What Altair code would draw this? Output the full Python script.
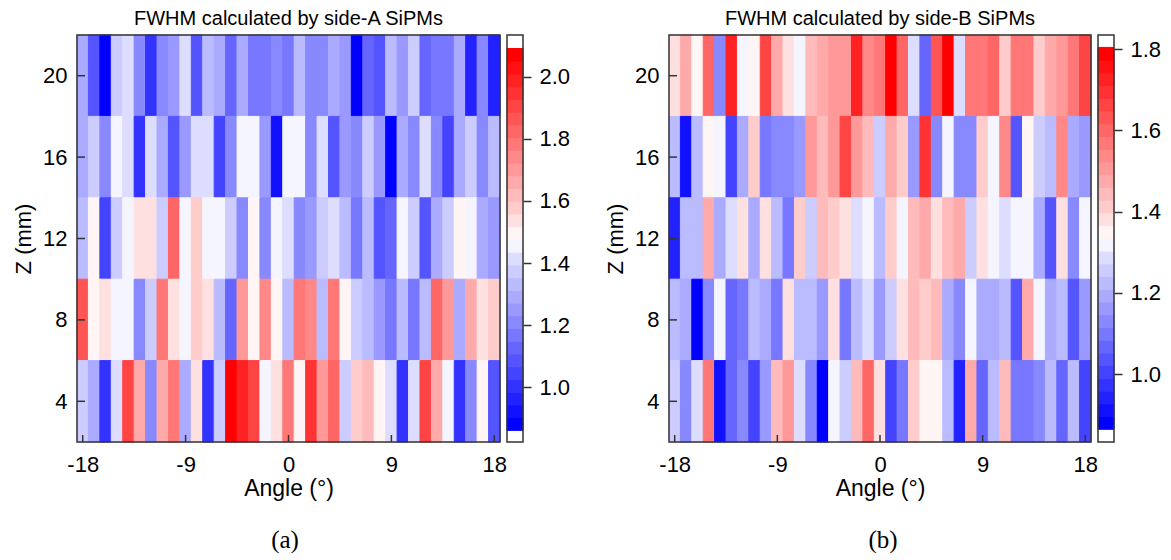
import altair as alt
import pandas as pd

ANGLES = list(range(-18, 19))
Z_ROWS = [20, 16, 12, 8, 4]

A_20 = [1.29,1.09,0.88,1.37,1.41,1.21,1.00,1.21,1.25,1.41,1.09,1.33,1.29,1.13,1.29,1.17,1.17,1.21,1.17,1.33,1.21,1.21,1.29,1.25,0.88,1.13,1.09,1.33,1.25,1.37,1.13,1.17,1.17,1.29,0.96,1.21,0.96]
A_16 = [1.29,1.37,1.21,1.46,1.41,1.00,1.41,1.29,1.09,1.25,1.41,1.41,1.05,1.21,1.46,1.46,1.25,0.92,1.46,1.46,1.21,1.41,1.09,1.25,1.21,1.37,1.25,0.88,1.29,1.21,1.41,1.21,1.05,1.29,1.37,1.21,1.33]
A_12 = [1.33,1.50,1.05,1.37,1.46,1.54,1.54,1.37,1.82,1.46,1.58,1.46,1.46,1.37,1.21,1.50,1.21,1.46,1.41,1.21,1.25,1.37,1.41,1.33,1.17,1.33,1.09,1.13,1.46,1.37,1.09,1.29,1.37,1.50,1.46,1.29,1.25]
A_8 = [1.87,1.50,1.54,1.46,1.46,1.21,1.37,1.78,1.54,1.46,1.58,1.54,1.33,1.13,1.70,1.50,1.74,1.50,1.33,1.78,1.74,1.33,1.78,1.50,1.37,1.33,1.25,1.17,1.33,1.17,1.33,1.82,1.70,1.29,1.66,1.54,1.58]
A_4 = [1.37,1.29,1.00,1.41,1.91,1.66,1.21,1.66,1.78,1.29,1.54,1.00,1.37,2.07,1.99,1.91,1.46,1.54,1.78,1.50,1.95,1.70,1.82,1.37,1.58,1.62,1.50,1.41,1.00,1.41,1.91,1.66,1.46,1.00,1.21,1.50,1.09]

B_20 = [1.38,1.48,1.35,1.60,1.13,1.73,1.32,1.35,1.67,1.48,1.38,1.32,1.45,1.48,1.51,1.51,1.73,1.54,1.57,1.79,1.60,1.29,1.07,1.64,1.79,1.29,1.57,1.57,1.60,1.42,1.57,1.57,1.42,1.48,1.51,1.57,1.67]
B_16 = [1.23,0.91,1.23,1.35,1.32,1.00,1.19,1.42,1.10,1.13,1.13,1.16,1.51,1.45,1.51,1.67,1.51,1.45,1.26,1.48,1.42,1.16,1.70,1.13,1.32,1.13,1.13,1.42,1.32,1.54,1.04,1.35,1.26,1.23,1.54,1.19,1.16]
B_12 = [0.94,1.23,1.23,1.48,1.19,1.29,1.38,1.19,1.38,1.23,1.10,1.42,1.26,1.45,1.42,1.38,1.29,1.32,1.23,1.42,1.32,1.45,1.48,1.38,1.45,1.48,1.26,1.38,1.32,1.29,1.32,1.32,1.19,1.04,1.38,1.13,1.32]
B_8 = [1.23,1.19,0.88,1.13,1.32,1.07,1.10,1.23,1.19,1.10,1.38,1.23,1.23,1.16,1.38,1.10,1.23,1.29,1.16,1.26,1.38,1.45,1.42,1.45,1.19,1.13,1.32,1.19,1.19,1.23,1.04,1.48,1.32,1.19,1.23,1.04,1.16]
B_4 = [1.26,1.13,1.29,1.57,0.91,1.07,1.13,1.00,1.16,1.45,1.51,1.29,1.13,0.88,1.32,1.26,1.45,1.60,1.38,1.00,1.10,1.42,1.35,1.35,1.23,0.94,1.48,1.07,1.23,1.45,1.10,1.10,1.13,1.23,1.07,1.23,1.00]

BAND_COLORS = [
    "#0000ff","#1111ff","#2222ff","#3333ff","#4444ff","#5555ff","#6666ff","#7777ff",
    "#8888ff","#9999ff","#aaaaff","#bbbbff","#ccccff","#ddddff","#f5f5ff",
    "#fff5f5","#ffe0e0","#ffcccc","#ffbbbb","#ffaaaa","#ff9999","#ff8888","#ff7777",
    "#ff6666","#ff5555","#ff4444","#ff3333","#ff2222","#ff1111","#ff0000",
]

FONT = "Liberation Sans"
INK = "#333333"
FS = 22
H = 407


def cells(rows):
    out = []
    for z, row in zip(Z_ROWS, rows):
        for a, v in zip(ANGLES, row):
            out.append(dict(a0=a - 0.5, a1=a + 0.5, z0=z - 2, z1=z + 2, v=v))
    return pd.DataFrame(out)


def frame(w):
    return alt.Chart(pd.DataFrame({"f": [0]})).mark_rect(
        fillOpacity=0, stroke=INK, strokeWidth=1.5
    ).encode(x=alt.value(0), x2=alt.value(w), y=alt.value(0), y2=alt.value(H))


def panel(rows, title, lo, hi, tag, w, tag_x):
    band = alt.Color("v:Q", legend=None,
                     scale=alt.Scale(type="quantize", domain=[lo, hi], range=BAND_COLORS, nice=False))
    edge = alt.Stroke("v:Q", legend=None,
                      scale=alt.Scale(type="quantize", domain=[lo, hi], range=BAND_COLORS, nice=False))
    heat = alt.Chart(cells(rows)).mark_rect(strokeWidth=1, opacity=1).encode(
        x=alt.X("a0:Q", scale=alt.Scale(domain=[-18.5, 18.5], nice=False, zero=False),
                axis=alt.Axis(values=[-18, -9, 0, 9, 18], title="Angle (°)", grid=False,
                              tickSize=0, labelPadding=12, domain=False,
                              labelExpr="toString(datum.value)",
                              labelFont=FONT, labelFontSize=FS, labelColor="black",
                              titleFont=FONT, titleFontSize=23, titleFontWeight="normal",
                              titleColor="black", titlePadding=2)),
        x2="a1:Q",
        y=alt.Y("z0:Q", scale=alt.Scale(domain=[2, 22], nice=False, zero=False),
                axis=alt.Axis(values=[4, 8, 12, 16, 20], title="Z (mm)", grid=False,
                              tickSize=0, labelPadding=10, domain=False,
                              labelFont=FONT, labelFontSize=FS, labelColor="black",
                              titleFont=FONT, titleFontSize=FS, titleFontWeight="normal",
                              titleColor="black", titlePadding=7)),
        y2="z1:Q",
        color=band,
        stroke=edge,
    )
    xt = alt.Chart(pd.DataFrame({"a": [-18, -9, 0, 9, 18]})).mark_rule(color=INK, strokeWidth=1.5).encode(
        x="a:Q", y=alt.value(H), y2=alt.value(H - 7))
    yt = alt.Chart(pd.DataFrame({"z": [4, 8, 12, 16, 20]})).mark_rule(color=INK, strokeWidth=1.5).encode(
        y="z:Q", x=alt.value(0), x2=alt.value(8))
    lab = alt.Chart(pd.DataFrame({"t": [tag]})).mark_text(
        font="Liberation Serif", fontSize=25, color="black", baseline="alphabetic", align="center"
    ).encode(text="t:N", x=alt.value(tag_x), y=alt.value(513))
    return alt.layer(heat, frame(w), xt, yt, lab).properties(
        width=w, height=H,
        title=alt.TitleParams(title, font=FONT, fontSize=20, fontWeight="normal", color="black", offset=5),
    )


def colorbar(lo, hi, top, bottom, ticks):
    step = (hi - lo) / len(BAND_COLORS)
    bands = pd.DataFrame([
        dict(b0=lo + i * step, b1=lo + (i + 1) * step, m=lo + (i + 0.5) * step)
        for i in range(len(BAND_COLORS))
    ])
    band = alt.Color("m:Q", legend=None,
                     scale=alt.Scale(type="quantize", domain=[lo, hi], range=BAND_COLORS, nice=False))
    edge = alt.Stroke("m:Q", legend=None,
                      scale=alt.Scale(type="quantize", domain=[lo, hi], range=BAND_COLORS, nice=False))
    rects = alt.Chart(bands).mark_rect(strokeWidth=1, opacity=1).encode(
        x=alt.value(0), x2=alt.value(16),
        y=alt.Y("b0:Q", scale=alt.Scale(domain=[bottom, top], nice=False, zero=False),
                axis=alt.Axis(orient="right", values=ticks, format=".1f", title=None, grid=False,
                              tickSize=8, tickWidth=1.5, tickColor=INK, domain=False, labelPadding=8,
                              labelFont=FONT, labelFontSize=FS, labelColor="black")),
        y2="b1:Q",
        color=band,
        stroke=edge,
    )
    return alt.layer(rects, frame(16)).properties(width=16, height=H)


left = alt.hconcat(
    panel([A_20, A_16, A_12, A_8, A_4], "FWHM calculated by side-A SiPMs", 0.861, 2.091, "(a)", 423, 208),
    colorbar(0.861, 2.091, 2.1345, 0.8235, [1.0, 1.2, 1.4, 1.6, 1.8, 2.0]),
    spacing=-1,
).resolve_scale(color="independent", stroke="independent")
right = alt.hconcat(
    panel([B_20, B_16, B_12, B_8, B_4], "FWHM calculated by side-B SiPMs", 0.8643, 1.804, "(b)", 422, 214),
    colorbar(0.8643, 1.804, 1.8345, 0.833, [1.0, 1.2, 1.4, 1.6, 1.8]),
    spacing=-2,
).resolve_scale(color="independent", stroke="independent")
chart = alt.hconcat(left, right, spacing=34).resolve_scale(color="independent", stroke="independent").properties(
    padding={"left": 4, "top": 1, "right": 0, "bottom": 0},
    background="white",
).configure_view(stroke=None)

chart.save("out.html", embed_options={"renderer": "svg", "actions": False})
